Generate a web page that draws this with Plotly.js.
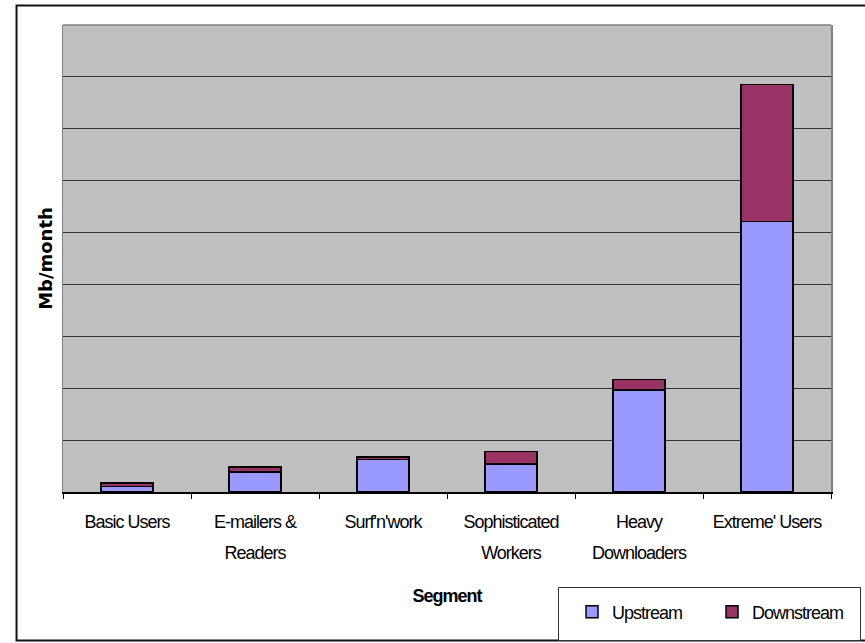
<!DOCTYPE html>
<html>
<head>
<meta charset="utf-8">
<script src="https://cdn.plot.ly/plotly-3.0.1.min.js"></script>
<style>
  html, body { margin: 0; padding: 0; background: #ffffff; }
  #chart { width: 865px; height: 643px; }
  /* tight, squeezed look of the category and legend text */
  .xtick text, .legendtext, .g-xtitle text { letter-spacing: -1px; }
</style>
</head>
<body>
<div id="chart"></div>
<script>
// Monthly traffic per user segment (Mb/month)
const segments = ["Basic Users", "E-mailers &<br>Readers", "Surf'n'work", "Sophisticated<br>Workers", "Heavy<br>Downloaders", "Extreme' Users"];
const upstream = [11, 39, 63, 54, 197, 521];
const downstream = [6, 9, 4, 24, 20, 264];

const seriesNames = ["Upstream", "Downstream"];
const seriesColors = ["#9999FF", "#993366"];

const textFont = "Liberation Sans, Arial, sans-serif";

const traces = [upstream, downstream].map((vals, i) => ({
  type: "bar",
  name: seriesNames[i],
  x: segments,
  y: vals,
  width: 0.41,
  marker: { color: seriesColors[i], line: { color: "#000000", width: 1.5 } },
  hoverinfo: "skip"
}));

const layout = {
  width: 865,
  height: 643,
  margin: { l: 63, r: 34, t: 25, b: 151 },
  paper_bgcolor: "#ffffff",
  plot_bgcolor: "#c0c0c0",
  barmode: "stack",
  showlegend: true,
  font: { family: textFont, size: 18, color: "#000000" },
  xaxis: {
    type: "category",
    showline: true,
    linecolor: "#000000",
    linewidth: 1.5,
    ticks: "outside",
    tickson: "boundaries",
    ticklen: 5,
    tickcolor: "#000000",
    tickwidth: 1,
    tickangle: 0,
    ticklabelstandoff: 13,
    showgrid: false,
    automargin: false,
    tickfont: { family: textFont, size: 18, color: "#000000" },
    title: {
      text: "Segment",
      font: { family: textFont, size: 18, weight: "bold", color: "#000000" },
      standoff: 35
    }
  },
  yaxis: {
    range: [0, 900],
    dtick: 100,
    showticklabels: false,
    ticks: "",
    showgrid: true,
    gridcolor: "#333333",
    gridwidth: 1,
    zeroline: false,
    showline: true,
    linecolor: "#808080",
    linewidth: 1.5,
    mirror: true,
    automargin: false,
    title: {
      text: "Mb/month",
      font: { family: "DejaVu Sans, sans-serif", size: 18, weight: "bold", color: "#000000" },
      standoff: 4
    }
  },
  legend: {
    orientation: "h",
    traceorder: "normal",
    x: 0.6628,
    xanchor: "left",
    y: -0.257,
    yanchor: "middle",
    bgcolor: "rgba(0,0,0,0)",
    borderwidth: 0,
    entrywidth: 95,
    entrywidthmode: "pixels",
    font: { family: textFont, size: 18, color: "#000000" }
  },
  shapes: [
    // outer chart frame
    { type: "rect", xref: "paper", yref: "paper", x0: -0.0605, x1: 1.06, y0: -0.318, y1: 1.0418,
      line: { color: "#111111", width: 2 }, fillcolor: "rgba(0,0,0,0)", layer: "below" },
    // legend box
    { type: "rect", xref: "paper", yref: "paper", x0: 0.6452, x1: 1.0384, y0: -0.318, y1: -0.2045,
      line: { color: "#333333", width: 1 }, fillcolor: "#ffffff", layer: "below" },
    // top edge of the plot area
    { type: "line", xref: "paper", yref: "paper", x0: 0, x1: 1, y0: 1, y1: 1,
      line: { color: "#808080", width: 1.5 } }
  ]
};

Plotly.newPlot("chart", traces, layout, { staticPlot: true, displayModeBar: false }).then(() => {
  // open up the line spacing of two-line category labels
  document.querySelectorAll(".xtick text").forEach(t => {
    const lines = t.querySelectorAll("tspan.line");
    lines.forEach((ln, k) => { if (k > 0) ln.setAttribute("dy", "1.7em"); });
  });
});
</script>
</body>
</html>
